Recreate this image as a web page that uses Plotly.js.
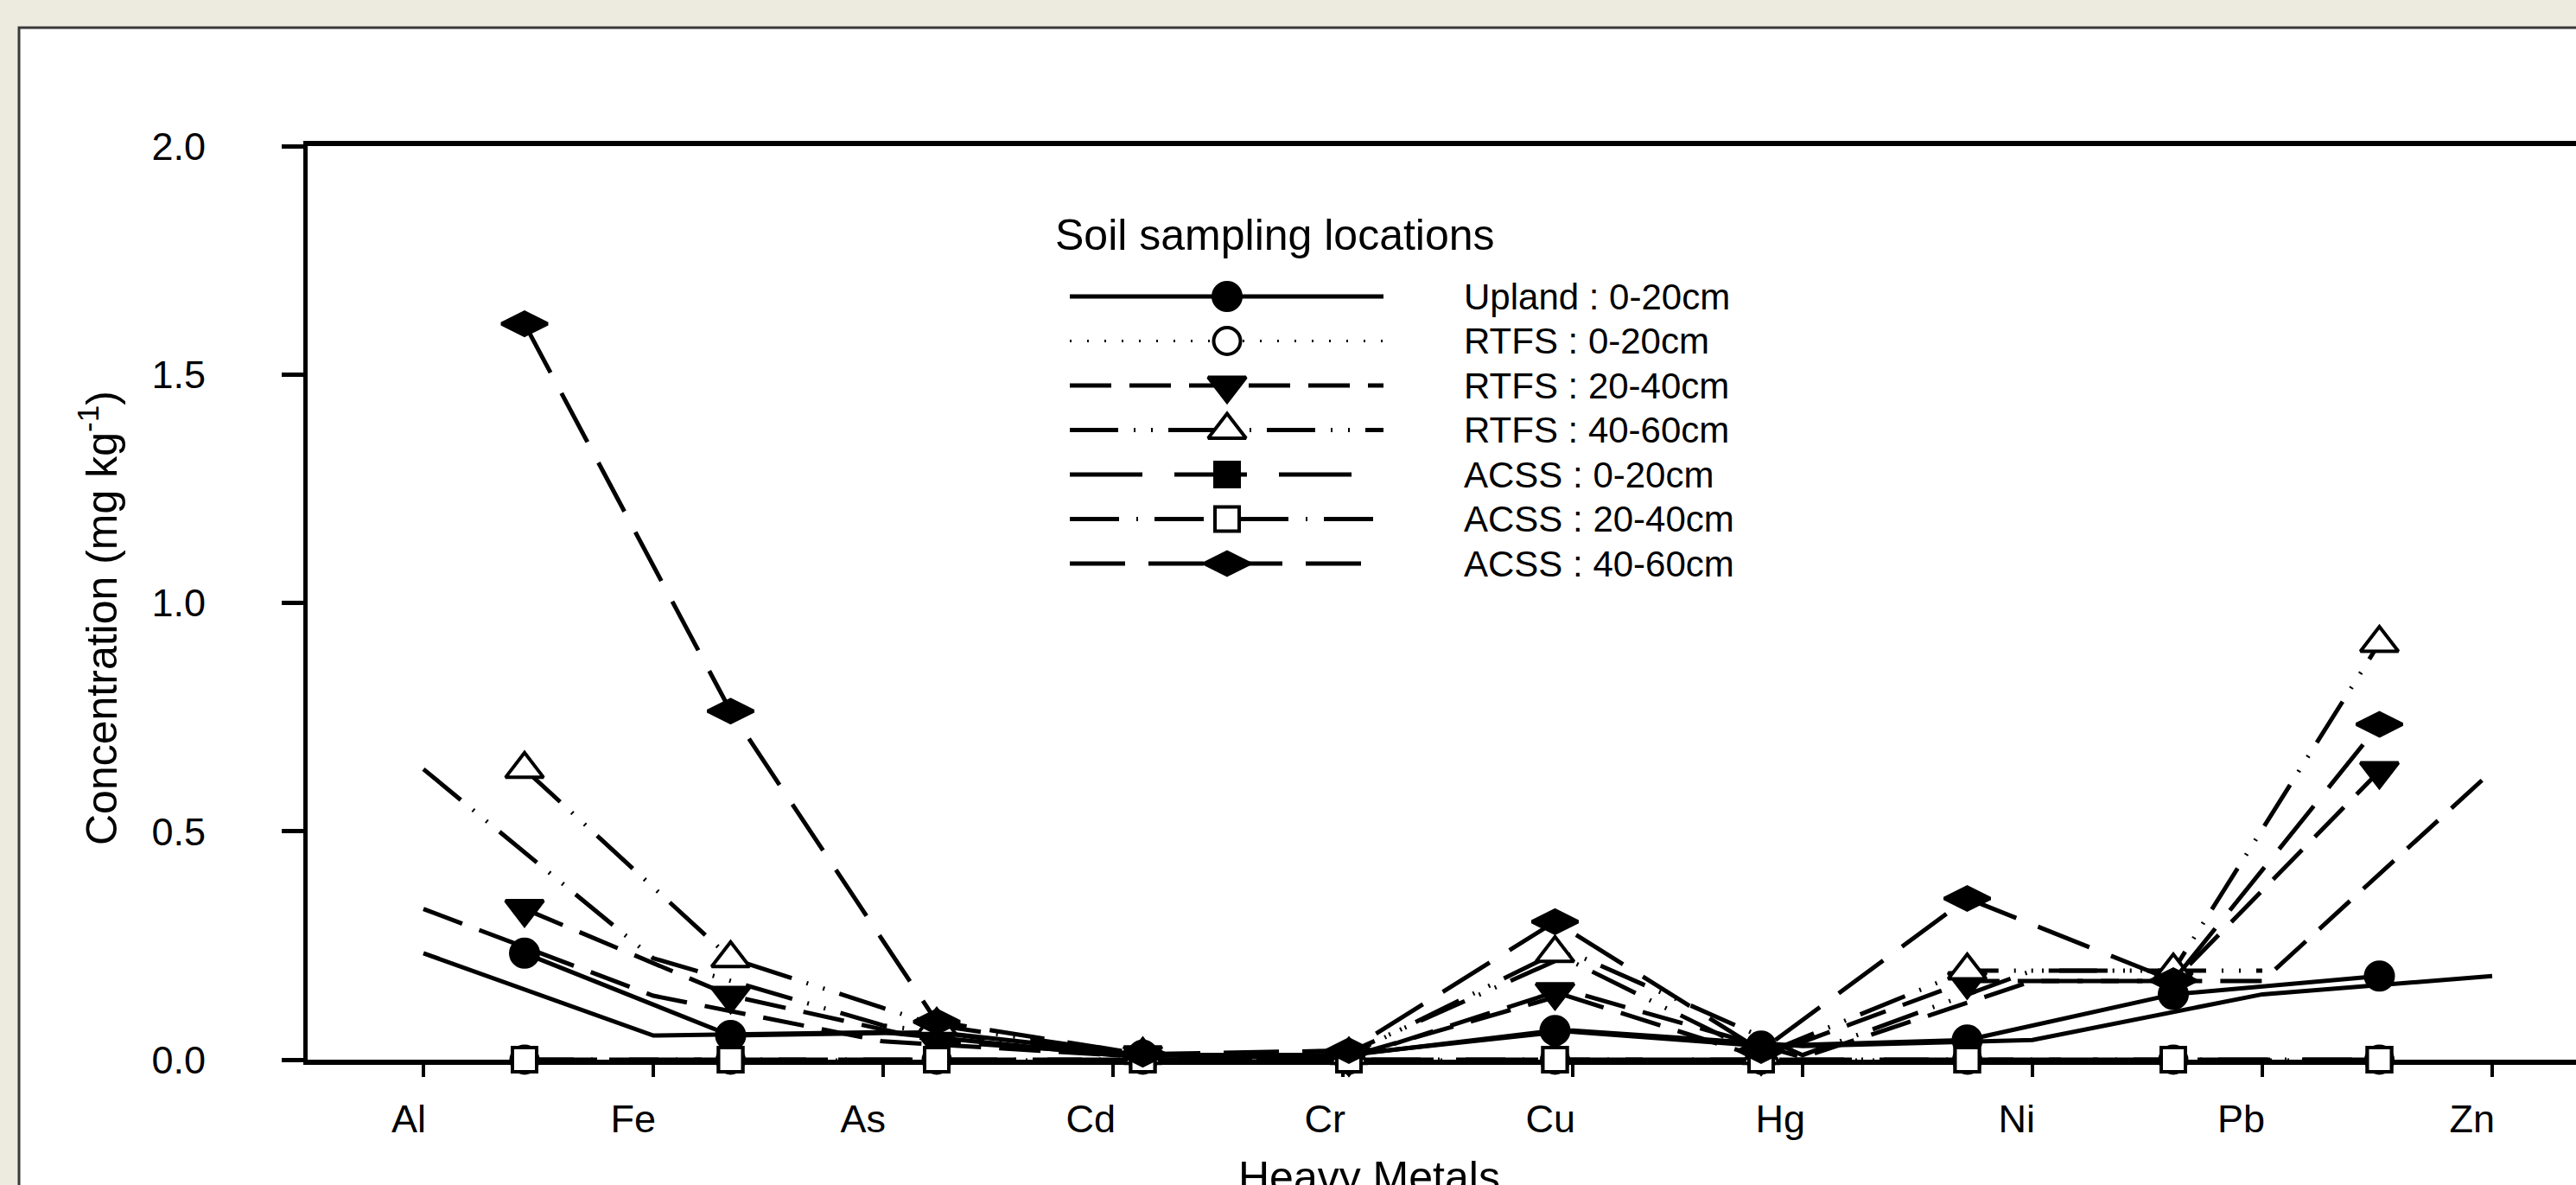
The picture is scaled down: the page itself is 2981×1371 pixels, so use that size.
<!DOCTYPE html>
<html>
<head>
<meta charset="utf-8">
<script src="https://cdn.plot.ly/plotly-3.0.1.min.js"></script>
<style>
html,body{margin:0;padding:0;background:#EDEAE0;}
#chart{width:2981px;height:1371px;}
</style>
</head>
<body>
<div id="chart"></div>
<script>
// ---------------- DATA ----------------
const metals = ['Al','Fe','As','Cd','Cr','Cu','Hg','Ni','Pb','Zn'];
const upland_0_20 = [0.233, 0.053, 0.060, 0.010, 0.010, 0.064, 0.030, 0.043, 0.143, 0.183];
const rtfs_0_20   = [0, 0, 0, 0, 0, 0, 0, 0, 0, 0];
const rtfs_20_40  = [0.330, 0.140, 0.040, 0.010, 0.003, 0.148, 0.005, 0.172, 0.172, 0.632];
const rtfs_40_60  = [0.636, 0.222, 0.075, 0.010, 0.010, 0.233, 0.010, 0.195, 0.195, 0.912];
const acss_0_20   = [0, 0, 0, 0, 0, 0, 0, 0, 0, 0];
const acss_20_40  = [0, 0, 0, 0, 0, 0, 0, 0, 0, 0];
const acss_40_60  = [1.611, 0.763, 0.083, 0.012, 0.020, 0.302, 0.020, 0.353, 0.173, 0.734];
const seriesNames = ['Upland : 0-20cm','RTFS : 0-20cm','RTFS : 20-40cm','RTFS : 40-60cm','ACSS : 0-20cm','ACSS : 20-40cm','ACSS : 40-60cm'];
const yTickVals = [0, 0.5, 1.0, 1.5, 2.0];
const yTickText = ['0.0','0.5','1.0','1.5','2.0'];
const legendTitle = 'Soil sampling locations';
const xTitle = 'Heavy Metals';
const yTitle = 'Concentration (mg kg<sup>-1</sup>)';

// ---------------- LAYOUT GEOMETRY ----------------
const W = 2981, H = 1371;
const plotLeft = 356, plotRight = 2981, plotTop = 169, plotBottom = 1226;
const FONT = 'Liberation Sans, Arial, Helvetica, sans-serif';
const idx = metals.map((m, i) => i + 1);

// category axis (lines + tick labels): first tick pixel and spacing
const tick0 = 490, tickStep = 266;
// symbol axis (markers): first marker pixel and spacing
const mark0 = 607, markStep = 238.5;
const lineRange = [1 + (plotLeft - tick0) / tickStep, 1 + (plotRight - tick0) / tickStep];
const markRange = [1 + (plotLeft - mark0) / markStep, 1 + (plotRight - mark0) / markStep];

const pw = plotRight - plotLeft, ph = plotBottom - plotTop;
const px = v => (v - plotLeft) / pw;
const py = v => (plotBottom - v) / ph;

// ---------------- STYLES ----------------
const styles = [
  {dash:'solid',                         symbol:'circle',        fill:'black', size:32, lw:5},
  {dash:'2px,18px',                      symbol:'circle',        fill:'white', size:31, lw:3},
  {dash:'48px,21px',                     symbol:'triangle-down', fill:'black', size:38, lw:5},
  {dash:'56px,18px,2px,18px,2px,18px',   symbol:'triangle-up',   fill:'white', size:38, lw:5},
  {dash:'84px,37px',                     symbol:'square',        fill:'black', size:28, lw:5},
  {dash:'57px,20px,2px,19px',            symbol:'square',        fill:'white', size:28, lw:5},
  {dash:'64px,27px',                     symbol:'diamond-wide',  fill:'black', size:38, lw:5}
];
const seriesData = [upland_0_20, rtfs_0_20, rtfs_20_40, rtfs_40_60, acss_0_20, acss_20_40, acss_40_60];

const traces = [];

// lines drawn on the category axis
[[0, 10], [2, 10], [3, 9]].forEach(([s, n]) => {
  traces.push({
    type:'scatter', mode:'lines', xaxis:'x', yaxis:'y',
    x: idx.slice(0, n), y: seriesData[s].slice(0, n),
    line:{color:'black', width:styles[s].lw, dash:styles[s].dash},
    hoverinfo:'skip', showlegend:false
  });
});

// lines + symbols on the symbol axis
seriesData.forEach((yv, s) => {
  const st = styles[s];
  traces.push({
    type:'scatter', mode:'lines+markers', xaxis:'x2', yaxis:'y',
    x: idx, y: yv, name: seriesNames[s], cliponaxis:false,
    line:{color:'black', width:st.lw, dash:st.dash},
    marker:{symbol:st.symbol, size:st.size, color:st.fill, opacity:1, line:{color:'black', width:4}},
    hoverinfo:'skip', showlegend:false
  });
});

// ---------------- LEGEND (drawn in pixel-unit overlay axes) ----------------
const legLineX0 = 1238, legLineX1 = 1601, legMarkX = 1420, legTextX = 1692;
const legRow0 = 343, legRowStep = 51.5;
const annotations = [];
seriesNames.forEach((nm, s) => {
  const st = styles[s];
  const yRow = legRow0 + legRowStep * s;
  traces.push({
    type:'scatter', mode:'lines', xaxis:'x3', yaxis:'y3',
    x:[legLineX0, legLineX1], y:[yRow, yRow],
    line:{color:'black', width:st.lw, dash:st.dash},
    hoverinfo:'skip', showlegend:false
  });
  traces.push({
    type:'scatter', mode:'markers', xaxis:'x3', yaxis:'y3',
    x:[legMarkX], y:[yRow], cliponaxis:false,
    marker:{symbol:st.symbol, size:st.size, color:st.fill, opacity:1, line:{color:'black', width:4}},
    hoverinfo:'skip', showlegend:false
  });
  annotations.push({
    xref:'paper', yref:'paper', x:px(legTextX), y:py(yRow), xanchor:'left', yanchor:'middle',
    text:nm, showarrow:false, font:{family:FONT, size:42, color:'black'}
  });
});
annotations.push({
  xref:'paper', yref:'paper', x:px(1219), y:py(272), xanchor:'left', yanchor:'middle',
  text:legendTitle, showarrow:false, font:{family:FONT, size:50, color:'black'}
});
annotations.push({
  xref:'paper', yref:'paper', x:px(114), y:py(715), xanchor:'center', yanchor:'middle',
  text:yTitle, textangle:-90, showarrow:false, font:{family:FONT, size:50, color:'black'}
});
annotations.push({
  xref:'paper', yref:'paper', x:px(1584), y:py(1362), xanchor:'center', yanchor:'middle',
  text:xTitle, showarrow:false, font:{family:FONT, size:50, color:'black'}
});

const layout = {
  width:W, height:H,
  margin:{l:plotLeft, r:W - plotRight, t:plotTop, b:H - plotBottom, pad:0},
  paper_bgcolor:'#EDEAE0', plot_bgcolor:'white',
  font:{family:FONT, color:'black'},
  showlegend:false,
  xaxis:{
    range:lineRange, tickmode:'array', tickvals:idx, ticktext:metals,
    ticks:'outside', ticklen:14, tickwidth:4, tickcolor:'black',
    showline:true, linewidth:6, linecolor:'black', mirror:true,
    showgrid:false, zeroline:false, layer:'below traces',
    tickfont:{family:FONT, size:45, color:'black'},
    ticklabelposition:'outside left', ticklabelstandoff:24, ticklabelshift:8, fixedrange:true
  },
  xaxis2:{overlaying:'x', anchor:'y', range:markRange, visible:false, fixedrange:true},
  xaxis3:{overlaying:'x', anchor:'y3', range:[plotLeft, plotRight], visible:false, fixedrange:true},
  yaxis:{
    range:[0, 2], tickmode:'array', tickvals:yTickVals, ticktext:yTickText,
    ticks:'outside', ticklen:25, tickwidth:5, tickcolor:'black',
    showline:true, linewidth:5, linecolor:'black',
    showgrid:false, zeroline:false, layer:'below traces',
    tickfont:{family:FONT, size:45, color:'black'},
    ticklabelstandoff:79, fixedrange:true
  },
  yaxis3:{overlaying:'y', anchor:'x3', range:[plotBottom, plotTop], visible:false, fixedrange:true},
  shapes:[{
    type:'rect', xref:'paper', yref:'paper', layer:'below',
    x0:px(22), x1:px(3010), y0:py(32), y1:py(1400),
    fillcolor:'white', line:{color:'#3a3a3a', width:3}
  }],
  annotations:annotations
};

Plotly.newPlot('chart', traces, layout, {displayModeBar:false, staticPlot:true});
</script>
</body>
</html>
